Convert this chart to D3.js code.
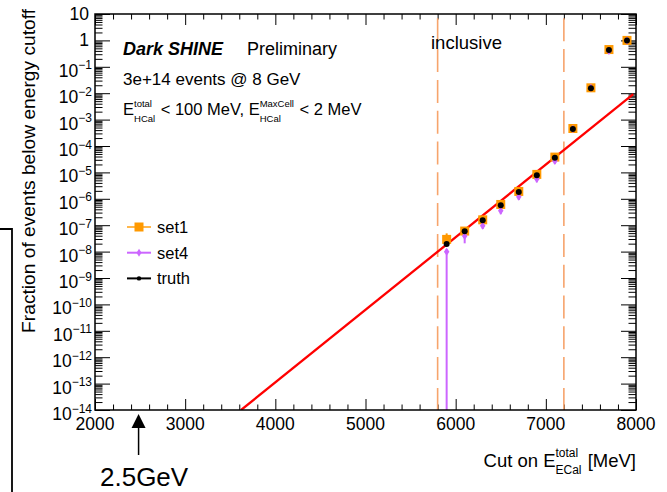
<!DOCTYPE html>
<html>
<head>
<meta charset="utf-8">
<script src="https://cdn.jsdelivr.net/npm/d3@7"></script>
<style>
  body { margin: 0; background: #fff; }
  svg { display: block; font-family: "Liberation Sans", Arial, Helvetica, sans-serif; }
  text { white-space: pre; }
</style>
</head>
<body>
<svg id="chart" width="667" height="492"></svg>
<script>
// Cut values on the total ECal energy (MeV), one per bin
const cuts = [5900, 6100, 6300, 6500, 6700, 6900, 7100, 7300, 7500, 7700, 7900];

// Fraction of events below each cut
const truth  = [1.94e-8, 5.9e-8, 1.53e-7, 5.7e-7, 1.81e-6, 7.8e-6, 3.6e-5, 4.4e-4, 1.53e-2, 0.43, 1.0];
const set1   = [2.9e-8, 6.0e-8, 1.6e-7, 6.1e-7, 1.9e-6, 8.4e-6, 3.8e-5, 4.6e-4, 1.6e-2, 0.45, 1.0];
const set1Lo = [1.7e-8, 5.4e-8, 1.45e-7, 5.5e-7, 1.72e-6, 7.6e-6, 3.45e-5, 4.2e-4, 1.45e-2, 0.41, 0.92];
const set1Hi = [4.9e-8, 6.6e-8, 1.75e-7, 6.7e-7, 2.08e-6, 9.2e-6, 4.15e-5, 5.0e-4, 1.75e-2, 0.49, 1.08];
const set4   = [9.9e-9, 3.9e-8, 9.6e-8, 3.5e-7, 1.2e-6, 5.6e-6, 2.7e-5, 4.4e-4, 1.6e-2, 0.40, 1.0];
const set4Lo = [0, 2.06e-8, 7.2e-8, 2.6e-7, 9.0e-7, 4.2e-6, 2.08e-5, 3.9e-4, 1.5e-2, 0.38, 0.96];
const set4Hi = [1.25e-8, 4.8e-8, 1.15e-7, 4.2e-7, 1.42e-6, 6.6e-6, 3.15e-5, 4.9e-4, 1.7e-2, 0.42, 1.04];

// Exponential fit, drawn as a straight line on the log axis between its end points
const fitX = [3620, 7970];
const fitY = [1e-14, 9.2e-3];

// Edges of the energy window
const windowEdges = [5800, 7200];

// Axis ticks
const xTicks = [2000, 3000, 4000, 5000, 6000, 7000, 8000];
const xMinorStep = 200;
const yExponents = [1, 0, -1, -2, -3, -4, -5, -6, -7, -8, -9, -10, -11, -12, -13, -14];

const frame = { l: 95, r: 636, t: 14, b: 410 };
const x = d3.scaleLinear().domain([2000, 8000]).range([frame.l, frame.r]);
const y = d3.scaleLog().domain([1e-14, 10]).range([frame.b, frame.t]);
const yv = v => y(Math.max(v, 1e-14));

const ORANGE = "#ff9900";
const VIOLET = "#cc66ff";
const DASH = "#f7a46c";

const svg = d3.select("#chart");

svg.append("defs").append("clipPath").attr("id", "plotArea")
  .append("rect")
  .attr("x", frame.l).attr("y", frame.t)
  .attr("width", frame.r - frame.l).attr("height", frame.b - frame.t);

// ---- ticks ----
const yMajor = yExponents.map(e => Math.pow(10, e));
const yMinor = [];
for (let e = -14; e <= 0; e++) for (let m = 2; m <= 9; m++) yMinor.push(m * Math.pow(10, e));
const xMinor = d3.range(2000, 8001, xMinorStep).filter(v => v % 1000 !== 0);

function ticks(axisFn, scale, values, size, transform) {
  const g = svg.append("g").attr("transform", transform)
    .call(axisFn(scale).tickValues(values).tickSize(size).tickFormat(""));
  g.select(".domain").remove();
  g.selectAll("text").remove();
  g.selectAll("line").attr("stroke", "#000").attr("stroke-width", 1);
}
ticks(d3.axisBottom, x, xTicks, -11, `translate(0,${frame.b})`);
ticks(d3.axisBottom, x, xMinor, -5.5, `translate(0,${frame.b})`);
ticks(d3.axisTop, x, xTicks, -11, `translate(0,${frame.t})`);
ticks(d3.axisTop, x, xMinor, -5.5, `translate(0,${frame.t})`);
ticks(d3.axisLeft, y, yMajor, -15, `translate(${frame.l},0)`);
ticks(d3.axisLeft, y, yMinor, -7.5, `translate(${frame.l},0)`);
ticks(d3.axisRight, y, yMajor, -15, `translate(${frame.r},0)`);
ticks(d3.axisRight, y, yMinor, -7.5, `translate(${frame.r},0)`);

// ---- tick labels ----
svg.append("g").selectAll("text").data(xTicks).join("text")
  .attr("x", d => x(d)).attr("y", 430)
  .attr("text-anchor", "middle").attr("font-size", 17.5)
  .text(d => d);

svg.append("g").selectAll("text").data(yExponents).join("text")
  .attr("x", e => e >= 0 ? 89 : 92)
  .attr("y", e => y(Math.pow(10, e)) + (e >= 0 ? 6 : 10))
  .attr("text-anchor", "end").attr("font-size", 17.5)
  .each(function (e) {
    const t = d3.select(this);
    if (e === 1) t.text("10");
    else if (e === 0) t.text("1");
    else {
      t.append("tspan").text("10");
      t.append("tspan").attr("dy", -7.5).attr("font-size", 12).text("\u2212" + (-e));
    }
  });

// ---- text with stacked super/subscripts ----
function rich(x0, yb, parts, size, sSize, supDy, subDy, alignEnd) {
  const g = svg.append("g");
  let cx = 0;
  parts.forEach(p => {
    if (p.t !== undefined) {
      const t = g.append("text").attr("x", cx).attr("y", 0).attr("font-size", size).text(p.t);
      cx += t.node().getComputedTextLength();
    } else {
      let w = 0;
      if (p.sup) {
        const t = g.append("text").attr("x", cx).attr("y", supDy).attr("font-size", sSize).text(p.sup);
        w = Math.max(w, t.node().getComputedTextLength());
      }
      if (p.sub) {
        const t = g.append("text").attr("x", cx).attr("y", subDy).attr("font-size", sSize).text(p.sub);
        w = Math.max(w, t.node().getComputedTextLength());
      }
      cx += w + 1;
    }
  });
  g.attr("transform", `translate(${alignEnd ? x0 - cx : x0},${yb})`);
  return g;
}

// ---- plot content ----
const plot = svg.append("g").attr("clip-path", "url(#plotArea)");

plot.selectAll("line.edge").data(windowEdges).join("line")
  .attr("class", "edge")
  .attr("x1", d => x(d)).attr("x2", d => x(d))
  .attr("y1", 18.3).attr("y2", frame.b)
  .attr("stroke", DASH).attr("stroke-width", 1.6)
  .attr("stroke-dasharray", "23,7.8");

plot.append("path")
  .datum(fitX.map((v, i) => [v, fitY[i]]))
  .attr("d", d3.line().x(d => x(d[0])).y(d => yv(d[1])))
  .attr("fill", "none").attr("stroke", "#ff0000").attr("stroke-width", 2.3);

// set1: error bars and squares
plot.selectAll("line.e1").data(cuts).join("line")
  .attr("class", "e1")
  .attr("x1", d => x(d)).attr("x2", d => x(d))
  .attr("y1", (d, i) => yv(set1Lo[i])).attr("y2", (d, i) => yv(set1Hi[i]))
  .attr("stroke", ORANGE).attr("stroke-width", 2);
plot.selectAll("rect.m1").data(cuts).join("rect")
  .attr("class", "m1")
  .attr("x", d => x(d) - 4.5).attr("y", (d, i) => yv(set1[i]) - 4.5)
  .attr("width", 9).attr("height", 9).attr("fill", ORANGE);

// set4: error bars and diamonds
const diamond = (w, h) => `M0,${-h / 2}L${w / 2},0L0,${h / 2}L${-w / 2},0Z`;
plot.selectAll("line.e4").data(cuts).join("line")
  .attr("class", "e4")
  .attr("x1", d => x(d)).attr("x2", d => x(d))
  .attr("y1", (d, i) => yv(set4Lo[i])).attr("y2", (d, i) => yv(set4Hi[i]))
  .attr("stroke", VIOLET).attr("stroke-width", 2);
plot.selectAll("path.m4").data(cuts).join("path")
  .attr("class", "m4")
  .attr("transform", (d, i) => `translate(${x(d)},${yv(set4[i])})`)
  .attr("d", diamond(5.5, 8)).attr("fill", VIOLET);

// truth: black dots
plot.selectAll("circle.mt").data(cuts).join("circle")
  .attr("class", "mt")
  .attr("cx", d => x(d)).attr("cy", (d, i) => yv(truth[i]))
  .attr("r", 3).attr("fill", "#000");

// frame
svg.append("rect")
  .attr("x", frame.l).attr("y", frame.t)
  .attr("width", frame.r - frame.l).attr("height", frame.b - frame.t)
  .attr("fill", "none").attr("stroke", "#000").attr("stroke-width", 1.5);

// ---- labels inside the frame ----
svg.append("text").attr("x", 123).attr("y", 55)
  .attr("font-size", 18).attr("font-weight", "bold").attr("font-style", "italic")
  .text("Dark SHINE");
svg.append("text").attr("x", 247).attr("y", 55).attr("font-size", 18).text("Preliminary");
svg.append("text").attr("x", 123).attr("y", 85).attr("font-size", 17).text("3e+14 events @ 8 GeV");
rich(123, 115, [
  { t: "E" }, { sup: "total", sub: "HCal" },
  { t: " < 100 MeV, E" }, { sup: "MaxCell", sub: "HCal" },
  { t: " < 2 MeV" }
], 16.5, 9.5, -8.5, 6.5, false);
svg.append("text").attr("x", 431).attr("y", 49).attr("font-size", 18.5).text("inclusive");

// ---- legend ----
const legend = [
  { name: "set1", color: ORANGE, mark: "square" },
  { name: "set4", color: VIOLET, mark: "diamond" },
  { name: "truth", color: "#000", mark: "dot" }
];
const lg = svg.append("g").selectAll("g").data(legend).join("g")
  .attr("transform", (d, i) => `translate(127,${227 + i * 25.7})`);
lg.append("line").attr("x1", 0).attr("x2", 24).attr("y1", 0).attr("y2", 0)
  .attr("stroke", d => d.color).attr("stroke-width", 2)
  .attr("stroke-opacity", d => d.mark === "square" ? 0.7 : 1);
lg.each(function (d) {
  const g = d3.select(this);
  if (d.mark === "square") g.append("rect").attr("x", 7.5).attr("y", -4.5).attr("width", 9).attr("height", 9).attr("fill", d.color);
  else if (d.mark === "diamond") g.append("path").attr("transform", "translate(12,0)").attr("d", diamond(5, 8)).attr("fill", d.color);
  else g.append("circle").attr("cx", 12).attr("cy", 0).attr("r", 2.2).attr("fill", d.color);
});
lg.append("text").attr("x", 30).attr("y", 6).attr("font-size", 16.5).text(d => d.name);

// ---- axis titles ----
svg.append("text")
  .attr("transform", `translate(35,${frame.t - 5}) rotate(-90)`)
  .attr("text-anchor", "end").attr("font-size", 19.2)
  .text("Fraction of events below energy cutoff");
rich(frame.r, 467, [
  { t: "Cut on E" }, { sup: "total", sub: "ECal" }, { t: " [MeV]" }
], 18.5, 12, -10.5, 6.5, true);

// ---- 2.5 GeV marker below the axis ----
const ax = x(2500) - 1.5;
svg.append("path")
  .attr("d", `M${ax},414L${ax + 7},428L${ax - 7},428Z`).attr("fill", "#000");
svg.append("line").attr("x1", ax).attr("x2", ax).attr("y1", 428).attr("y2", 455)
  .attr("stroke", "#000").attr("stroke-width", 1.5);
svg.append("text").attr("x", 100).attr("y", 486).attr("font-size", 26).text("2.5GeV");

// bracket at the left edge
svg.append("path").attr("d", "M0,229H12V492")
  .attr("fill", "none").attr("stroke", "#000").attr("stroke-width", 1.8);
</script>
</body>
</html>
